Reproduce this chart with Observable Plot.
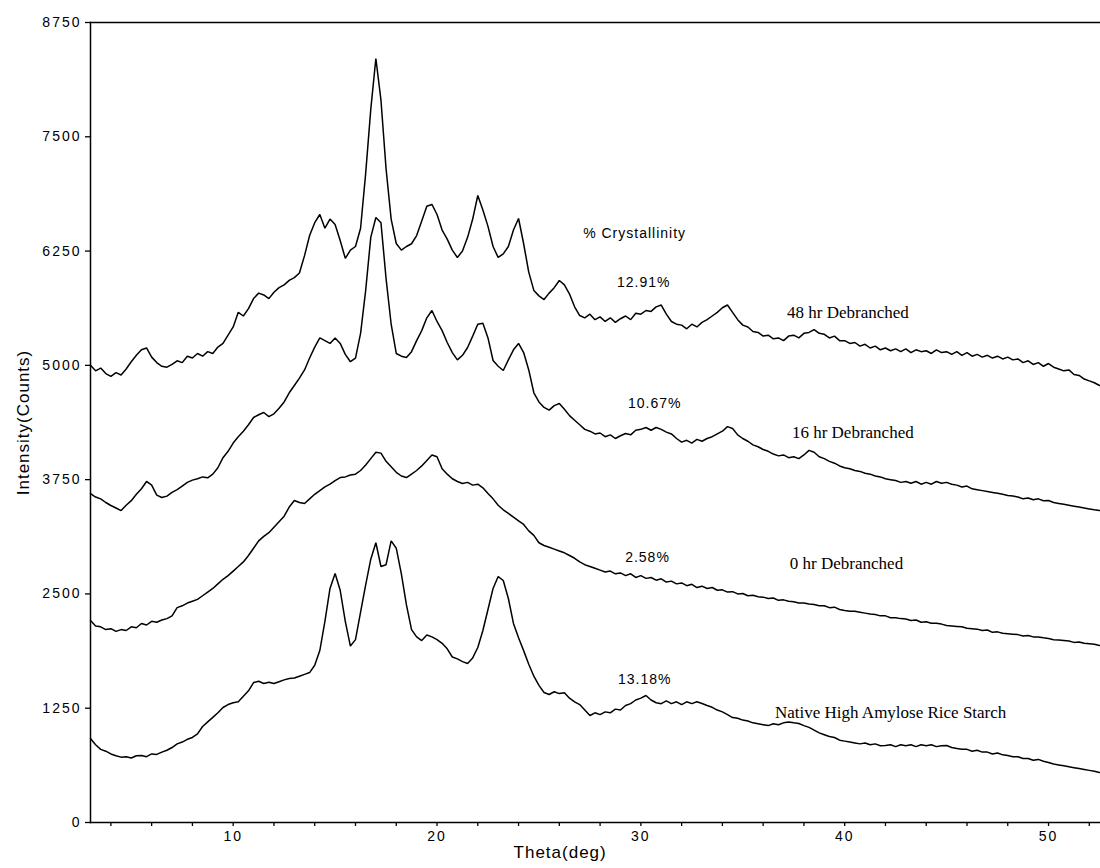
<!DOCTYPE html>
<html>
<head>
<meta charset="utf-8">
<script src="https://cdn.jsdelivr.net/npm/d3@7"></script>
<script src="https://cdn.jsdelivr.net/npm/@observablehq/plot@0.6"></script>
<style>
  html, body { margin: 0; padding: 0; background: #fff; }
  #chart { width: 1100px; height: 868px; }
</style>
</head>
<body>
<div id="chart"></div>
<script>
const thetaStart = 3.0;
const thetaStep = 0.25;

const counts48hr = [
  5000,4940,4970,4910,4880,4920,4895,4960,5040,5110,
  5170,5190,5090,5030,4990,4980,5010,5050,5030,5100,
  5080,5130,5100,5150,5130,5200,5240,5330,5420,5580,
  5540,5620,5730,5790,5770,5730,5800,5850,5880,5930,
  5960,6010,6200,6420,6560,6650,6500,6600,6540,6365,
  6170,6260,6300,6500,7100,7800,8356,7900,7150,6600,
  6333,6260,6300,6330,6420,6580,6740,6760,6650,6480,
  6380,6260,6180,6250,6400,6600,6858,6700,6520,6300,
  6180,6220,6300,6480,6606,6330,6020,5820,5760,5720,
  5790,5850,5928,5880,5780,5640,5545,5520,5560,5500,
  5530,5480,5520,5470,5510,5540,5500,5570,5560,5600,
  5590,5640,5660,5560,5480,5450,5440,5400,5450,5420,
  5470,5500,5540,5580,5630,5660,5580,5500,5440,5420,
  5370,5360,5320,5330,5290,5300,5270,5320,5330,5300,
  5350,5360,5390,5350,5340,5300,5320,5270,5270,5240,
  5250,5210,5230,5190,5210,5170,5190,5160,5180,5150,
  5180,5140,5170,5150,5160,5130,5170,5140,5150,5120,
  5150,5110,5140,5100,5120,5090,5110,5080,5100,5070,
  5090,5060,5070,5030,5050,5010,5030,4990,5020,4980,
  4960,4940,4950,4900,4890,4850,4830,4810,4780
];

const counts16hr = [
  3598,3560,3540,3500,3467,3440,3412,3470,3520,3590,
  3650,3730,3690,3580,3555,3570,3610,3640,3680,3720,
  3745,3760,3780,3770,3810,3880,3990,4060,4150,4220,
  4280,4350,4430,4460,4484,4440,4470,4530,4600,4700,
  4780,4860,4950,5080,5200,5300,5270,5240,5300,5240,
  5120,5040,5080,5350,5820,6400,6617,6560,5950,5450,
  5130,5100,5086,5150,5270,5380,5520,5600,5480,5380,
  5250,5140,5060,5110,5195,5320,5450,5460,5300,5053,
  4990,4944,5060,5170,5240,5140,4950,4700,4600,4540,
  4510,4560,4583,4520,4450,4400,4350,4300,4280,4250,
  4260,4220,4240,4200,4230,4255,4240,4290,4300,4320,
  4290,4320,4300,4270,4250,4200,4160,4180,4150,4190,
  4170,4200,4220,4250,4280,4330,4310,4240,4200,4170,
  4130,4110,4080,4060,4030,4010,4020,3990,4000,3980,
  4020,4070,4050,4000,3980,3950,3930,3900,3880,3870,
  3850,3840,3820,3810,3790,3780,3760,3750,3740,3720,
  3730,3710,3730,3700,3720,3700,3730,3710,3720,3700,
  3690,3670,3680,3650,3640,3630,3620,3610,3600,3590,
  3577,3570,3560,3540,3550,3530,3540,3520,3522,3500,
  3490,3480,3470,3460,3450,3440,3430,3420,3412
];

const counts0hr = [
  2209,2150,2140,2110,2120,2090,2110,2100,2140,2130,
  2177,2160,2200,2190,2215,2230,2260,2350,2370,2400,
  2420,2440,2480,2520,2560,2610,2660,2700,2750,2800,
  2850,2920,3000,3080,3130,3170,3230,3290,3350,3450,
  3522,3500,3489,3540,3590,3630,3670,3700,3740,3773,
  3780,3800,3810,3850,3910,3980,4050,4040,3950,3890,
  3830,3790,3773,3810,3850,3900,3960,4020,4000,3870,
  3810,3760,3730,3708,3720,3690,3700,3660,3598,3540,
  3470,3420,3380,3340,3300,3260,3190,3140,3060,3030,
  3010,2990,2970,2950,2920,2890,2850,2820,2800,2780,
  2760,2740,2750,2720,2730,2700,2720,2680,2700,2670,
  2680,2650,2665,2630,2640,2610,2620,2590,2605,2570,
  2585,2560,2570,2540,2545,2520,2525,2500,2505,2480,
  2485,2470,2465,2450,2455,2430,2435,2420,2415,2400,
  2400,2390,2385,2370,2370,2350,2355,2330,2319,2310,
  2310,2300,2290,2280,2275,2260,2260,2240,2240,2230,
  2225,2210,2215,2190,2195,2180,2180,2170,2155,2150,
  2145,2140,2125,2120,2115,2100,2105,2080,2085,2070,
  2065,2060,2055,2040,2045,2030,2030,2020,2012,2000,
  1995,1990,1985,1970,1975,1960,1955,1950,1936
];

const countsNative = [
  919,850,800,780,750,730,715,720,705,730,
  733,720,750,745,770,790,820,860,880,910,
  930,970,1050,1100,1150,1200,1258,1290,1310,1320,
  1380,1440,1531,1545,1520,1535,1520,1540,1560,1575,
  1580,1600,1620,1640,1720,1880,2200,2560,2723,2540,
  2200,1930,2000,2300,2600,2880,3060,2800,2820,3080,
  3000,2720,2380,2110,2030,1990,2050,2030,2000,1960,
  1900,1810,1790,1760,1739,1800,1914,2100,2330,2560,
  2690,2647,2450,2177,2020,1880,1730,1600,1500,1422,
  1400,1430,1410,1420,1360,1320,1290,1230,1170,1200,
  1180,1210,1200,1240,1230,1280,1300,1340,1360,1389,
  1340,1310,1300,1330,1300,1320,1290,1320,1300,1320,
  1302,1280,1260,1230,1210,1180,1148,1140,1120,1110,
  1090,1080,1070,1060,1080,1070,1090,1100,1090,1083,
  1060,1040,1010,980,960,940,930,900,890,880,
  870,860,870,850,860,840,842,850,830,850,
  840,850,830,850,840,850,830,840,842,820,
  810,800,800,780,790,770,770,750,760,740,
  733,720,720,700,700,680,690,670,656,640,
  630,620,610,600,590,580,570,560,547
];

const seriesNames = ["48 hr Debranched", "16 hr Debranched", "0 hr Debranched", "Native High Amylose Rice Starch"];
const crystallinity = ["12.91%", "10.67%", "2.58%", "13.18%"];

// tick values / labels
const xTicks = [4,6,8,10,12,14,16,18,20,22,24,26,28,30,32,34,36,38,40,42,44,46,48,50,52];
const xTickLabels = [10,20,30,40,50];
const yTicks = [0,1250,2500,3750,5000,6250,7500,8750];

// ---- build table ----
const rows = [];
[counts48hr, counts16hr, counts0hr, countsNative].forEach((s, i) => {
  s.forEach((c, k) => rows.push({series: seriesNames[i], theta: thetaStart + k * thetaStep, counts: c}));
});

// annotation anchors (theta, counts) of the in-plot labels
const pctAnchors = [[28.83,5906],[29.37,4583],[29.23,2898],[28.88,1564]];
const nameAnchors = [[37.17,5578],[37.41,4266],[37.31,2833],[36.58,1203]];
const pctLabels = crystallinity.map((t, i) => ({text: t, theta: pctAnchors[i][0], counts: pctAnchors[i][1]}));
const nameLabels = seriesNames.map((t, i) => ({text: t, theta: nameAnchors[i][0], counts: nameAnchors[i][1]}));

const sans = "'Liberation Sans', Arial, sans-serif";
const serif = "'Liberation Serif', 'Times New Roman', serif";

const chart = Plot.plot({
  width: 1100,
  height: 868,
  marginLeft: 90,
  marginRight: 0,
  marginTop: 22,
  marginBottom: 46,
  style: {fontFamily: sans, fontSize: "13px", color: "black", background: "white", overflow: "visible"},
  x: {domain: [3, 52.55], label: null},
  y: {domain: [0, 8750], label: null},
  marks: [
    Plot.frame({anchor: "left", stroke: "black", strokeWidth: 1.5}),
    Plot.frame({anchor: "top", stroke: "black", strokeWidth: 1.5}),
    Plot.frame({anchor: "bottom", stroke: "black", strokeWidth: 1.5}),
    Plot.axisX({ticks: xTicks, tickSize: 4, tickPadding: 5, strokeWidth: 1.3, fontSize: 14,
      tickFormat: d => xTickLabels.includes(d) ? String(d) : "", label: null}),
    Plot.axisY({ticks: yTicks, tickSize: 5, tickPadding: 4, strokeWidth: 1.3, fontSize: 14,
      tickFormat: d => String(d), label: null}),
    Plot.line(rows, {x: "theta", y: "counts", z: "series", stroke: "black", strokeWidth: 1.5, strokeLinejoin: "miter"}),
    Plot.text(["% Crystallinity"], {x: [27.17], y: [6442], text: d => d, textAnchor: "start", fontSize: 14, fontFamily: sans}),
    Plot.text(pctLabels, {x: "theta", y: "counts", text: "text", textAnchor: "start", fontSize: 14, fontFamily: sans}),
    Plot.text(nameLabels, {x: "theta", y: "counts", text: "text", textAnchor: "start", fontSize: 17, fontFamily: serif}),
    Plot.text(["Theta(deg)"], {frameAnchor: "bottom", x: [26.04], text: d => d, dy: 35, fontSize: 17, fontFamily: sans}),
    Plot.text(["Intensity(Counts)"], {frameAnchor: "left", y: [4375], text: d => d, dx: -67, rotate: -90, textAnchor: "middle", fontSize: 17, fontFamily: sans})
  ]
});
document.getElementById("chart").appendChild(chart);

// letter spacing to mimic the wide bitmap font of the original
const sel = d3.select(chart);
sel.selectAll('g[aria-label="y-axis tick label"] text').style("letter-spacing", "2px");
sel.selectAll('g[aria-label="x-axis tick label"] text').style("letter-spacing", "2px");
sel.selectAll('g[aria-label="text"] text').each(function () {
  const fs = +d3.select(this.parentNode).attr("font-size") || 0;
  const ff = d3.select(this.parentNode).attr("font-family") || "";
  if (!ff.includes("Serif")) d3.select(this).style("letter-spacing", "1px");
});
</script>
</body>
</html>
